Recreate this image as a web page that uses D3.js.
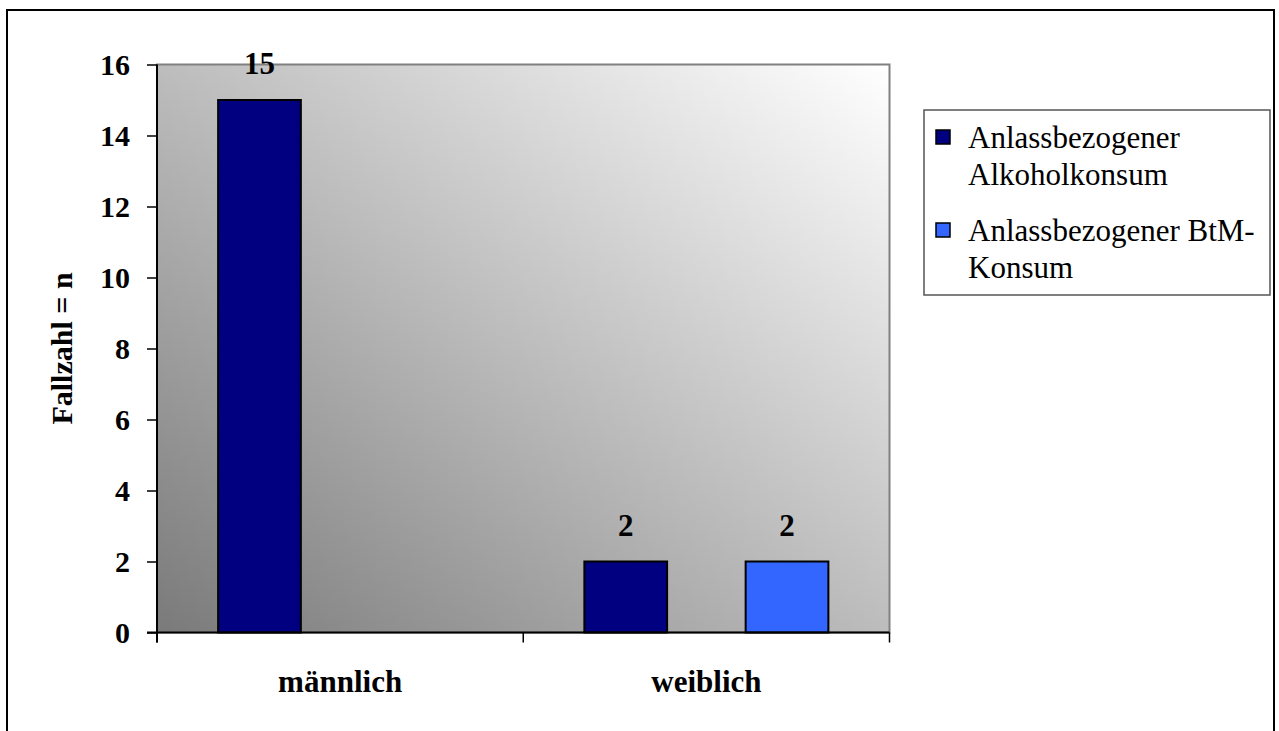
<!DOCTYPE html>
<html>
<head>
<meta charset="utf-8">
<script src="https://cdn.jsdelivr.net/npm/d3@7"></script>
<style>
  html, body { margin: 0; padding: 0; background: #fff; }
  svg { display: block; }
  text { font-family: "Liberation Serif", "Times New Roman", serif; }
</style>
</head>
<body>
<svg id="chart" width="1279" height="731"></svg>
<script>
// Chart data
const categories = ["männlich", "weiblich"];
const seriesNames = ["Anlassbezogener Alkoholkonsum", "Anlassbezogener BtM-Konsum"];
const legendLines = [["Anlassbezogener", "Alkoholkonsum"], ["Anlassbezogener BtM-", "Konsum"]];
const alkoholValues = [15, 2];
const btmValues = [null, 2];
const yTicks = [0, 2, 4, 6, 8, 10, 12, 14, 16];
const seriesColors = ["#000080", "#3366FF"];

const svg = d3.select("#chart");

// Plot area bounds
const plot = { left: 157, top: 64.5, right: 889.5, bottom: 632.5 };

// Outer chart frame
svg.append("rect")
  .attr("x", 7).attr("y", 10)
  .attr("width", 1267).attr("height", 740)
  .attr("fill", "#fff").attr("stroke", "#000").attr("stroke-width", 2);

// Diagonal grey gradient for the plot background
const defs = svg.append("defs");
const grad = defs.append("linearGradient")
  .attr("id", "plotBg")
  .attr("x1", 0).attr("y1", 1).attr("x2", 1).attr("y2", 0);
grad.append("stop").attr("offset", "0%").attr("stop-color", "#7a7a7a");
grad.append("stop").attr("offset", "100%").attr("stop-color", "#ffffff");

svg.append("rect")
  .attr("x", plot.left).attr("y", plot.top)
  .attr("width", plot.right - plot.left).attr("height", plot.bottom - plot.top)
  .attr("fill", "url(#plotBg)")
  .attr("stroke", "#808080").attr("stroke-width", 2);

// Scales
const y = d3.scaleLinear().domain([0, 16]).range([plot.bottom, plot.top]);
const x0 = d3.scaleBand().domain(categories).range([plot.left, plot.right]).padding(0);
const x1 = d3.scaleBand().domain(seriesNames).range([0, x0.bandwidth()])
  .paddingInner(0.487).paddingOuter(0.379);

const rows = categories.map((c, i) => ({
  category: c,
  values: [
    { series: seriesNames[0], value: alkoholValues[i], color: seriesColors[0] },
    { series: seriesNames[1], value: btmValues[i], color: seriesColors[1] }
  ]
}));

// Bars
const groups = svg.append("g").selectAll("g")
  .data(rows).join("g")
  .attr("transform", d => `translate(${x0(d.category)},0)`);

const present = d => d.values.filter(v => v.value != null);

groups.selectAll("rect")
  .data(present).join("rect")
  .attr("x", d => x1(d.series))
  .attr("y", d => y(d.value))
  .attr("width", x1.bandwidth())
  .attr("height", d => y(0) - y(d.value))
  .attr("fill", d => d.color)
  .attr("stroke", "#000").attr("stroke-width", 2);

// Value labels above bars
groups.selectAll("text.val")
  .data(present).join("text")
  .attr("class", "val")
  .attr("x", d => x1(d.series) + x1.bandwidth() / 2)
  .attr("y", d => y(d.value) - 26)
  .attr("text-anchor", "middle")
  .attr("font-weight", "bold")
  .attr("font-size", 31)
  .text(d => d.value);

// Y axis
const yAxis = svg.append("g")
  .attr("transform", `translate(${plot.left},0)`)
  .call(d3.axisLeft(y).tickValues(yTicks).tickSize(10).tickPadding(17).tickSizeOuter(0));
yAxis.select(".domain").attr("stroke", "#000").attr("stroke-width", 2)
  .attr("d", `M0,${plot.top}V${plot.bottom + 10}`);
yAxis.selectAll(".tick line").attr("stroke", "#000").attr("stroke-width", 1.5);
yAxis.selectAll(".tick text")
  .attr("font-family", "Liberation Serif, Times New Roman, serif")
  .attr("font-size", 30).attr("font-weight", "bold").attr("fill", "#000");

// X axis: labels centred on categories, tick marks on category boundaries
const xAxis = svg.append("g")
  .attr("transform", `translate(0,${plot.bottom})`)
  .call(d3.axisBottom(x0).tickSize(0).tickPadding(37));
xAxis.select(".domain").attr("stroke", "#000").attr("stroke-width", 2)
  .attr("d", `M${plot.left - 10},0H${plot.right}`);
xAxis.selectAll(".tick text")
  .attr("font-family", "Liberation Serif, Times New Roman, serif")
  .attr("font-size", 31).attr("font-weight", "bold").attr("fill", "#000");

const boundaries = categories.map(c => x0(c)).concat([x0(categories[categories.length - 1]) + x0.bandwidth()]);
xAxis.selectAll("line.bound")
  .data(boundaries).join("line")
  .attr("class", "bound")
  .attr("x1", d => d).attr("x2", d => d)
  .attr("y1", 0).attr("y2", 10)
  .attr("stroke", "#000").attr("stroke-width", 1.5);

// Y axis title
svg.append("text")
  .attr("transform", `translate(72,${(plot.top + plot.bottom) / 2}) rotate(-90)`)
  .attr("text-anchor", "middle")
  .attr("font-weight", "bold")
  .attr("font-size", 30)
  .text("Fallzahl = n");

// Legend
const legend = svg.append("g");
legend.append("rect")
  .attr("x", 924).attr("y", 110)
  .attr("width", 346).attr("height", 185)
  .attr("fill", "#fff").attr("stroke", "#555").attr("stroke-width", 1.5);

const legendTops = [148, 241];
seriesNames.forEach((name, i) => {
  legend.append("rect")
    .attr("x", 936).attr("y", legendTops[i] - 18)
    .attr("width", 14).attr("height", 14)
    .attr("fill", seriesColors[i])
    .attr("stroke", "#000").attr("stroke-width", 1.5);
  legendLines[i].forEach((line, j) => {
    legend.append("text")
      .attr("x", 968)
      .attr("y", legendTops[i] + j * 37)
      .attr("font-size", 31)
      .text(line);
  });
});
</script>
</body>
</html>
